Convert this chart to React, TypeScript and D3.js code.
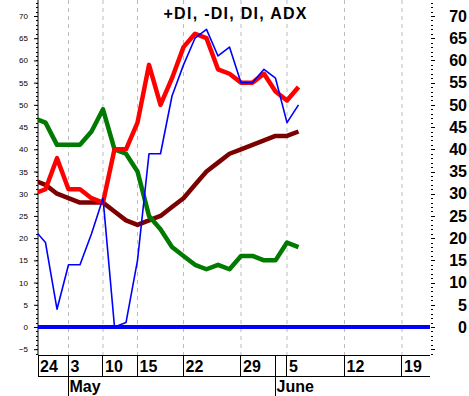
import React from "react";
import * as d3 from "d3";

// session index of each point (a few days missing in the data, so the weeks are uneven)
const sessions = [-1, 0, 1, 2, 3, 4, 5, 6, 7, 8, 9, 10, 11, 12, 13, 14, 15, 16, 17, 18, 19, 20, 21, 22];

const plusDI = [30, 31, 38, 31, 31, 29, 28, 40, 40, 46, 59, 50, 56, 63, 66, 65, 58, 57, 55, 55, 57, 53, 51, 54];
const minusDI = [22, 19, 4, 14, 14, 21, 29, 0, 1, 15, 39, 39, 52, 59, 65, 67, 61, 63, 55, 55, 58, 56, 46, 50];
const diLine = [47, 46, 41, 41, 41, 44, 49, 40, 39, 35, 25, 22, 18, 16, 14, 13, 14, 13, 16, 16, 15, 15, 19, 18];
const adx = [33, 32, 30, 29, 28, 28, 28, 26, 24, 23, 24, 25, 27, 29, 32, 35, 37, 39, 40, 41, 42, 43, 43, 44];

const dayLabels = ["24", "3", "10", "15", "22", "29", "5", "12", "19"];
const dayAt = [-0.65, 2, 5, 8, 12, 17, 21, 26, 31];
const monthLabels = ["May", "June"];
const monthAt = [2, 20];

const leftTicks = [-5, 0, 5, 10, 15, 20, 25, 30, 35, 40, 45, 50, 55, 60, 65, 70];
const rightTicks = [0, 5, 10, 15, 20, 25, 30, 35, 40, 45, 50, 55, 60, 65, 70];

const W = 469;
const H = 396;
const left = 38;
const right = 430;
const bottom = 355;

class App extends React.Component {
  svgEl: SVGSVGElement | null = null;

  componentDidMount() {
    this.draw();
  }

  draw() {
    const svg = d3.select(this.svgEl);
    svg.selectAll("*").remove();

    const x = d3.scaleLinear().domain([-0.652, 33.435]).range([left, right]);
    const y = d3.scaleLinear().domain([0, 70]).range([327, 16]);

    svg.append("defs").append("clipPath").attr("id", "plot")
      .append("rect").attr("x", left).attr("y", 0)
      .attr("width", right - left).attr("height", bottom);

    // dashed grid at the date ticks
    svg.append("g").selectAll("line")
      .data(dayAt.slice(1))
      .join("line")
      .attr("x1", d => x(d)).attr("x2", d => x(d))
      .attr("y1", 0).attr("y2", bottom)
      .attr("stroke", "#bdbdbd").attr("stroke-dasharray", "4,4");

    // left axis, small font
    const yl = d3.axisLeft(y).tickValues(leftTicks).tickSize(4).tickSizeOuter(0).tickPadding(6);
    const gL = svg.append("g").attr("transform", `translate(${left},0)`).call(yl);
    gL.select(".domain").remove();
    gL.selectAll("text").attr("font-family", "Liberation Sans, Arial").attr("font-size", 8).attr("fill", "#000");
    svg.append("line").attr("x1", left).attr("x2", left).attr("y1", 0).attr("y2", bottom)
      .attr("stroke", "#000");

    // minor ticks both sides
    const minor = d3.range(-6, 74);
    svg.append("g").selectAll("line").data(minor).join("line")
      .attr("x1", left - 2).attr("x2", left)
      .attr("y1", d => Math.round(y(d)) + 0.5).attr("y2", d => Math.round(y(d)) + 0.5)
      .attr("stroke", "#000");
    svg.append("g").selectAll("line").data(minor).join("line")
      .attr("x1", right + 1).attr("x2", d => (d % 5 === 0 ? right + 5 : right + 3))
      .attr("y1", d => Math.round(y(d)) + 0.5).attr("y2", d => Math.round(y(d)) + 0.5)
      .attr("stroke", "#000");

    // right labels, big bold
    svg.append("g").selectAll("text").data(rightTicks).join("text")
      .attr("x", 467).attr("y", d => y(d)).attr("dy", "0.36em")
      .attr("text-anchor", "end")
      .attr("font-family", "Liberation Sans, Arial").attr("font-weight", "bold").attr("font-size", 16)
      .text(d => d);

    // zero line
    svg.append("line").attr("x1", left).attr("x2", right)
      .attr("y1", y(0)).attr("y2", y(0))
      .attr("stroke", "#0000ff").attr("stroke-width", 4);

    const line = (vals: number[]) =>
      d3.line<number>().x((_, i) => x(sessions[i])).y(d => y(d))(vals);

    const plot = svg.append("g").attr("clip-path", "url(#plot)");
    const series: [number[], string, number][] = [
      [adx, "#7d0000", 4.5],
      [diLine, "#007a00", 4.5],
      [plusDI, "#ff0000", 4.5],
      [minusDI, "#0000ff", 1.6],
    ];
    series.forEach(([vals, col, w]) => {
      plot.append("path").attr("d", line(vals))
        .attr("fill", "none").attr("stroke", col).attr("stroke-width", w)
        .attr("stroke-linejoin", "round");
    });

    // date axis box
    const ax = svg.append("g").attr("stroke", "#000").attr("shape-rendering", "crispEdges");
    ax.append("line").attr("x1", left).attr("x2", right).attr("y1", bottom).attr("y2", bottom);
    ax.append("line").attr("x1", left).attr("x2", right).attr("y1", 376).attr("y2", 376);
    ax.selectAll(".dt").data(dayAt).join("line")
      .attr("x1", d => Math.max(left, x(d))).attr("x2", d => Math.max(left, x(d)))
      .attr("y1", bottom).attr("y2", 376);
    ax.selectAll(".mt").data(monthAt).join("line")
      .attr("x1", d => x(d)).attr("x2", d => x(d))
      .attr("y1", bottom).attr("y2", H);

    svg.append("g").selectAll("text").data(dayLabels).join("text")
      .attr("x", (_, i) => Math.max(left, x(dayAt[i])) + 2).attr("y", 372)
      .attr("font-family", "Liberation Sans, Arial").attr("font-weight", "bold").attr("font-size", 16)
      .text(d => d);
    svg.append("g").selectAll("text").data(monthLabels).join("text")
      .attr("x", (_, i) => x(monthAt[i]) + 1).attr("y", 392)
      .attr("font-family", "Liberation Sans, Arial").attr("font-weight", "bold").attr("font-size", 16)
      .text(d => d);

    svg.append("text").attr("x", 235).attr("y", 19).attr("text-anchor", "middle")
      .attr("font-family", "Liberation Sans, Arial").attr("font-weight", "bold").attr("font-size", 16)
      .attr("textLength", 143).attr("lengthAdjust", "spacing")
      .text("+DI, -DI, DI, ADX");
  }

  render() {
    return (
      <div style={{ position: "absolute", left: 0, top: 0, background: "#fff" }}>
        <svg width={W} height={H} ref={el => { this.svgEl = el; }} />
      </div>
    );
  }
}

export default App;
